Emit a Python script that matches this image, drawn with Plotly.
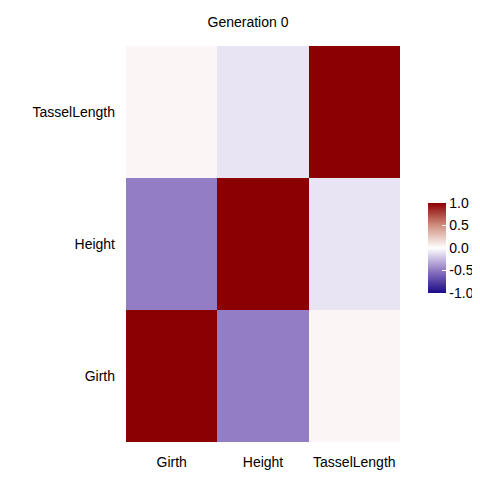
import plotly.graph_objects as go

traits = ["Girth", "Height", "TasselLength"]
corr = [
    [1.0, -0.48, 0.04],
    [-0.48, 1.0, -0.1],
    [0.04, -0.1, 1.0],
]

fig = go.Figure(go.Heatmap(
    z=corr, x=traits, y=traits, zmin=-1, zmax=1,
    colorscale=[[0, "#1a0a85"], [0.25, "#8f78c2"], [0.5, "#ffffff"], [0.75, "#d09080"], [1, "#8b0000"]],
    colorbar=dict(len=90, lenmode="pixels", thickness=18, x=420/480, xref="paper", xanchor="left",
                  y=0.5, yref="paper", yanchor="middle", xpad=0, ypad=0,
                  tickvals=[-1, -0.5, 0, 0.5, 1], ticktext=["-1.0", "-0.5", "0.0", "0.5", "1.0"],
                  ticks="inside", ticklen=4, tickcolor="white", outlinewidth=0,
                  tickfont=dict(size=14, color="black", family="Liberation Sans")),
))
fig.update_layout(
    width=480, height=480, plot_bgcolor="white", paper_bgcolor="white",
    margin=dict(l=0, r=0, t=0, b=0, autoexpand=False),
    title=dict(text="Generation 0", x=0.5, xanchor="center", y=0.97, yanchor="middle", font=dict(size=14, color="black", family="Liberation Sans")),
    font=dict(family="Liberation Sans", color="black", size=14),
    xaxis=dict(domain=[118/480, 392/480], showgrid=False, zeroline=False, ticks="", ticklabelstandoff=10, automargin=False),
    yaxis=dict(domain=[46/480, 442/480], showgrid=False, zeroline=False, ticks="", ticklabelstandoff=10, automargin=False),
)
fig.write_html("out.html")
